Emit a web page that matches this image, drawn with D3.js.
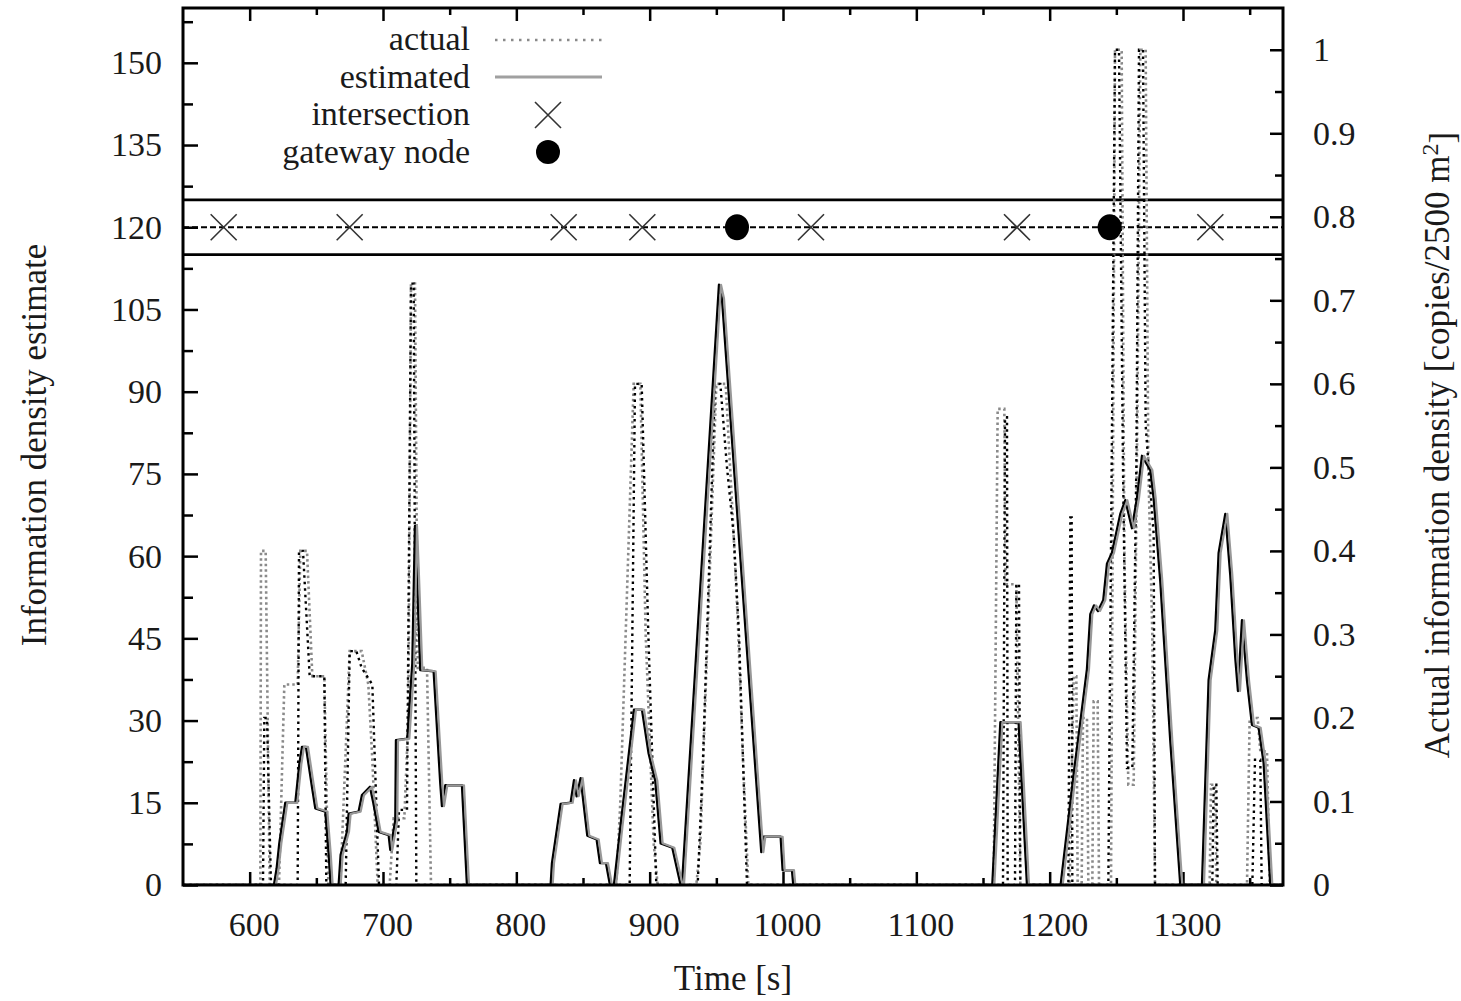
<!DOCTYPE html>
<html>
<head>
<meta charset="utf-8">
<script src="https://d3js.org/d3.v7.min.js"></script>
<style>
body { margin: 0; background: #fff; }
text { font-family: "Liberation Serif", "Times New Roman", Tinos, "DejaVu Serif", "Noto Serif", Times, serif; fill: #1a1a1a; }
</style>
</head>
<body>
<svg id="drawing_region"></svg>
<script>
// tick values
const timeTicks = [600, 700, 800, 900, 1000, 1100, 1200, 1300];
const timeMinor = [650, 750, 850, 950, 1050, 1150, 1250, 1350];
const leftTicks = [0, 15, 30, 45, 60, 75, 90, 105, 120, 135, 150];
const leftMinor = [7.5, 22.5, 37.5, 52.5, 67.5, 82.5, 97.5, 112.5, 127.5, 142.5, 157.5];
const rightTicks = [0, 0.1, 0.2, 0.3, 0.4, 0.5, 0.6, 0.7, 0.8, 0.9, 1];
const rightMinor = [0.05, 0.15, 0.25, 0.35, 0.45, 0.55, 0.65, 0.75, 0.85, 0.95];

// estimated density [time, estimate] (left axis)
const estimated = [
    [550,0],[619,0],[621,3],[623,7.6],[627.5,15],[635,15],[638,22],[640,25.2],[643,25.2],[647.5,17.9],[650,14],[657.5,13.4],[660,5.8],[661.5,0],
    [667.5,0],[669,5.5],[673.75,9.7],[675,13],[682.5,13.4],[685,16.4],[691,17.9],[693.5,15],[697.5,9.7],[705,9.1],[706.25,6.4],[710,11.8],[710.5,26.4],[719,26.7],[722.75,40.4],[724.75,65.5],[726,58],[728.75,39.2],[738.75,39],[743.75,18.5],[745,14.4],[747.5,18.2],[760,18.2],[763.75,0],
    [826.5,0],[827.5,4],[834,14.8],[841.5,15],[844,19.1],[846,16.2],[849,19.5],[854,9],[861,8.3],[863.5,4],[868,4],[871,0],
    [874,0],[879,11],[889,32],[895,32],[900,24],[905,19],[909,7.6],[917.75,6.8],[924,0],
    [925,0],[952.75,109.5],[955,107],[984.5,6],[986,8.8],[999,8.8],[1000.5,2.7],[1007.5,2.7],[1008.5,0],
    [1157.75,0],[1163.8,29.7],[1177.5,29.7],[1183.75,0],
    [1209,0],[1218.75,20.2],[1223.75,29.7],[1228.75,39.4],[1231.25,49.4],[1234,51],[1237,50],[1241,52],[1243.75,58.6],[1247.5,60.6],[1253.75,67.7],[1257.5,70.2],[1262.5,65.1],[1266.25,70.6],[1270,78.3],[1276.25,75.7],[1278.75,70.6],[1283.75,55.4],[1291.25,26.3],[1298.75,0],
    [1315,0],[1320,37.4],[1325,46.5],[1327.5,60.6],[1332.5,67.7],[1336.25,56.5],[1340,41.4],[1342,35.4],[1345,48.3],[1348.75,37.4],[1352.5,29.2],[1357.5,28.7],[1361.25,22.3],[1366.25,0],[1375,0]
];

// actual density [time, copies/2500 m^2] (right axis), two traces
const actualGray = [
    [550,0],[608,0],[608.5,0.40],[612,0.40],[615,0],
    [622,0],[626,0.24],[636,0.24],[638,0.40],[643,0.40],[647,0.25],[656,0.25],[659,0],
    [668,0],[675,0.28],[684,0.28],[689,0.24],[692,0.15],[696,0],
    [705,0],[708,0.08],[716,0.08],[719,0.2],[721,0.72],[724,0.72],[726,0.26],[733,0.26],[736,0],
    [875,0],[878,0.1],[888,0.6],[893,0.6],[897,0.3],[903,0.05],[906,0],
    [935,0],[938,0.05],[950,0.6],[957,0.6],[962,0.45],[966,0.32],[970,0.15],[974,0],
    [1158,0],[1161,0.57],[1166,0.57],[1167,0.36],[1175,0.36],[1178,0],
    [1215,0],[1218,0.25],[1220,0.25],[1221,0],[1224,0],[1225,0.2],[1228,0.2],[1229,0],[1232,0],[1233,0.22],[1236,0.22],[1237,0],
    [1246,0],[1249,1.0],[1254,1.0],[1256,0.4],[1259,0.12],[1263,0.12],[1266,0.6],[1268,1.0],[1272,1.0],[1274,0.5],[1277,0.3],[1279,0],
    [1320,0],[1321,0.12],[1324,0.12],[1325,0],[1348,0],[1350,0.2],[1356,0.2],[1358,0.16],[1363,0.16],[1365,0],[1375,0]
];
const actualBlack = [
    [550,0],[610,0],[611,0.2],[613,0.2],[616,0],
    [636,0],[637,0.40],[640,0.40],[645,0.25],[656,0.25],[657.5,0],
    [672,0],[675,0.28],[680,0.28],[684,0.26],[692,0.24],[697,0],
    [710,0],[712,0.09],[718,0.09],[721,0.72],[723,0.72],[725,0],
    [885,0],[889,0.6],[894,0.6],[899,0.3],[905,0],
    [936,0],[940,0.15],[949,0.6],[953,0.6],[958,0.5],[963,0.42],[967,0.3],[972,0.05],[973,0],
    [1165,0],[1166.5,0.56],[1168,0.56],[1168.5,0],[1174,0],[1175,0.36],[1177,0.36],[1178,0],
    [1214,0],[1215.5,0.44],[1216.5,0.44],[1217,0],
    [1244,0],[1247,0.6],[1249,1.0],[1252,1.0],[1255,0.5],[1258,0.14],[1262,0.14],[1265,0.5],[1267,1.0],[1270,1.0],[1272,0.55],[1278,0.42],[1279,0],
    [1322,0],[1323,0.12],[1325,0.12],[1326,0],[1352,0],[1354,0.15],[1358,0.15],[1359,0],[1375,0]
];

// events on the 120 line
const intersections = [580.5, 675, 835.5, 894.5, 1021, 1175.5, 1320.5];
const gateways = [965.5, 1245];
const bandLevel = 120, bandLow = 115, bandHigh = 125;

const legendItems = ['actual', 'estimated', 'intersection', 'gateway node'];

const serif = '"Liberation Serif", "Times New Roman", Tinos, "DejaVu Serif", "Noto Serif", Times, serif';

var config = {
    parent: '#drawing_region',
    width: 1461,
    height: 1001,
    margin: {top: 8, right: 178, bottom: 116, left: 183}
};

class DensityChart {

    constructor( config ) {
        this.config = config;
        this.init();
    }

    init() {
        let self = this;

        self.svg = d3.select( self.config.parent )
            .attr('width', self.config.width)
            .attr('height', self.config.height)
            .style('font-family', serif);

        self.inner_width = self.config.width - self.config.margin.left - self.config.margin.right;
        self.inner_height = self.config.height - self.config.margin.top - self.config.margin.bottom;

        self.chart = self.svg.append('g')
            .attr('transform', `translate(${self.config.margin.left}, ${self.config.margin.top})`);

        self.xscale = d3.scaleLinear().domain([550, 1375]).range([0, self.inner_width]);
        self.yscale = d3.scaleLinear().domain([0, 160]).range([self.inner_height, 0]);
        self.y2scale = d3.scaleLinear().domain([0, 1.05]).range([self.inner_height, 0]);

        self.svg.append('defs').append('clipPath').attr('id', 'clip')
            .append('rect')
            .attr('width', self.inner_width)
            .attr('height', self.inner_height);
    }

    axis( gen, values, size, pad, fmt, transform ) {
        let self = this;
        const a = gen.tickValues(values).tickSizeInner(-size).tickSizeOuter(0).tickPadding(pad).tickFormat(fmt);
        const g = self.chart.append('g').attr('transform', transform).call(a);
        g.attr('font-family', null);
        g.select('.domain').remove();
        g.selectAll('.tick line').attr('stroke', '#000').attr('stroke-width', 2.5);
        g.selectAll('.tick text').attr('font-size', 34).attr('fill', '#1a1a1a')
            .style('font-family', serif);
        return g;
    }

    render() {
        let self = this;
        const W = self.inner_width, H = self.inner_height;
        const x = self.xscale, y = self.yscale, y2 = self.y2scale;
        const none = () => '';

        // axes (inward ticks)
        const xb = self.axis(d3.axisBottom(x), timeTicks, 13, 27, d3.format('d'), `translate(0,${H})`);
        xb.selectAll('.tick text').attr('dx', 4);
        self.axis(d3.axisBottom(x), timeMinor, 7, 0, none, `translate(0,${H})`);
        self.axis(d3.axisTop(x), timeTicks, 13, 0, none, 'translate(0,0)');
        self.axis(d3.axisTop(x), timeMinor, 7, 0, none, 'translate(0,0)');
        self.axis(d3.axisLeft(y), leftTicks, 15, 21, d3.format('d'), 'translate(0,0)');
        self.axis(d3.axisLeft(y), leftMinor, 10, 0, none, 'translate(0,0)');
        self.axis(d3.axisRight(y2), rightTicks, 13, 30, d => String(d), `translate(${W},0)`);
        self.axis(d3.axisRight(y2), rightMinor, 8, 0, none, `translate(${W},0)`);

        // band around the 120 level
        [bandLow, bandHigh].forEach(v => {
            self.chart.append('line')
                .attr('x1', 0).attr('x2', W)
                .attr('y1', y(v)).attr('y2', y(v))
                .attr('stroke', '#000').attr('stroke-width', 2.8);
        });
        self.chart.append('line')
            .attr('x1', 0).attr('x2', W)
            .attr('y1', y(bandLevel)).attr('y2', y(bandLevel))
            .attr('stroke', '#000').attr('stroke-width', 2.2)
            .attr('stroke-dasharray', '6,3');

        const plot = self.chart.append('g').attr('clip-path', 'url(#clip)');

        const line1 = d3.line().x(d => x(d[0])).y(d => y(d[1]));
        const line2 = d3.line().x(d => x(d[0])).y(d => y2(d[1]));

        plot.append('path').datum(actualGray)
            .attr('d', line2).attr('fill', 'none')
            .attr('stroke', '#8a8a8a').attr('stroke-width', 2.6)
            .attr('stroke-dasharray', '2.5,3');

        plot.append('path').datum(actualBlack)
            .attr('d', line2).attr('fill', 'none')
            .attr('stroke', '#000').attr('stroke-width', 2.4)
            .attr('stroke-dasharray', '2.5,4');

        // estimated: black trace with the grey one laid slightly beside it
        plot.append('path').datum(estimated)
            .attr('d', line1).attr('fill', 'none')
            .attr('transform', 'translate(-1,0)')
            .attr('stroke', '#000').attr('stroke-width', 2.4)
            .attr('stroke-linejoin', 'round');

        plot.append('path').datum(estimated)
            .attr('d', line1).attr('fill', 'none')
            .attr('transform', 'translate(1,0)')
            .attr('stroke', '#989898').attr('stroke-width', 2.2)
            .attr('stroke-linejoin', 'round');

        // markers
        const cross = 'M-13,-13L13,13M-13,13L13,-13';
        plot.selectAll('.cross')
            .data(intersections)
            .join('path')
            .attr('class', 'cross')
            .attr('d', cross)
            .attr('transform', d => `translate(${x(d)},${y(bandLevel)})`)
            .attr('stroke', '#333').attr('stroke-width', 1.6).attr('fill', 'none');

        plot.selectAll('.gateway')
            .data(gateways)
            .join('ellipse')
            .attr('class', 'gateway')
            .attr('cx', d => x(d)).attr('cy', y(bandLevel))
            .attr('rx', 12).attr('ry', 13).attr('fill', '#000');

        // border
        self.chart.append('rect')
            .attr('width', W).attr('height', H)
            .attr('fill', 'none').attr('stroke', '#000').attr('stroke-width', 3);

        // legend
        const leg = self.svg.append('g');
        legendItems.forEach((t, i) => {
            leg.append('text')
                .attr('x', 470).attr('y', 50 + i * 37.5)
                .attr('text-anchor', 'end').attr('font-size', 34)
                .text(t);
        });
        leg.append('line').attr('x1', 495).attr('x2', 602).attr('y1', 40).attr('y2', 40)
            .attr('stroke', '#8a8a8a').attr('stroke-width', 2.4).attr('stroke-dasharray', '2.5,5.5');
        leg.append('line').attr('x1', 495).attr('x2', 602).attr('y1', 77).attr('y2', 77)
            .attr('stroke', '#a0a0a0').attr('stroke-width', 3.2);
        leg.append('path').attr('d', cross).attr('transform', 'translate(548,115)')
            .attr('stroke', '#333').attr('stroke-width', 1.6).attr('fill', 'none');
        leg.append('circle').attr('cx', 548).attr('cy', 152).attr('r', 12).attr('fill', '#000');

        // axis titles
        self.svg.append('text')
            .attr('x', 733).attr('y', 990)
            .attr('text-anchor', 'middle').attr('font-size', 35)
            .text('Time [s]');

        self.svg.append('text')
            .attr('transform', 'translate(46,445) rotate(-90)')
            .attr('text-anchor', 'middle').attr('font-size', 35)
            .text('Information density estimate');

        const rt = self.svg.append('text')
            .attr('transform', 'translate(1449,445) rotate(-90)')
            .attr('text-anchor', 'middle').attr('font-size', 35);
        rt.append('tspan').text('Actual information density [copies/2500 m');
        rt.append('tspan').attr('dy', '-0.45em').attr('font-size', 24).text('2');
        rt.append('tspan').attr('dy', '0.45em').text(']');
    }
}

const chart = new DensityChart( config );
chart.render();
</script>
</body>
</html>
